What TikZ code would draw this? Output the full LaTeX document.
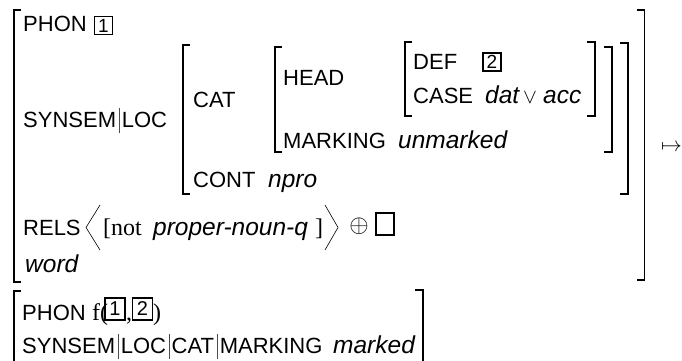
\documentclass[tikz,border=0pt]{standalone}
\usepackage{fontspec}
\setmainfont{Liberation Serif}
\setsansfont{Liberation Sans}
\newcommand\pbar{\hspace{2.5pt}{\color{black!70}\rule[-6pt]{0.7pt}{25pt}}\hspace{2.5pt}}
\newcommand\lbrk[3]{\draw[brk] (#1+7,#2) -- (#1,#2) -- (#1,#3) -- (#1+7,#3);}
\newcommand\rbrk[3]{\draw[brk] (#1-8,#2) -- (#1,#2) -- (#1,#3) -- (#1-8,#3);}
\tikzset{
  lab/.style={anchor=base west, inner sep=0pt, font=\sffamily\fontsize{22}{22}\selectfont},
  val/.style={anchor=base west, inner sep=0pt, font=\sffamily\itshape\fontsize{24.5}{24.5}\selectfont},
  ser/.style={anchor=base west, inner sep=0pt, font=\rmfamily\fontsize{24}{24}\selectfont},
  tagbox/.style={draw, line width=1.7pt, inner sep=0pt, minimum width=18pt, minimum height=18pt, font=\sffamily\fontsize{19}{19}\selectfont},
  tagbig/.style={tagbox, minimum width=20pt, minimum height=22pt, font=\sffamily\fontsize{20}{20}\selectfont},
  brk/.style={line width=1.3pt},
  angl/.style={line width=0.6pt}
}
\begin{document}
\begin{tikzpicture}[x=1pt,y=-1pt]
\useasboundingbox (0,0) rectangle (682,361);
% first AVM
\node[lab] (phon) at (23,32) {PHON};
\node[tagbox] (t1) at (103.5,25.5) {1};
\node[lab] (synsem) at (23,127) {SYNSEM\pbar LOC};
\node[lab] (cat) at (193,107) {CAT};
\node[lab] (head) at (283,85) {HEAD};
\node[lab] (def) at (413,70) {DEF};
\node[tagbox] (t2) at (492,62) {2};
\node[lab] (case) at (413,103.5) {CASE};
\node[val] (dat) at (485,103.5) {dat};
\node[anchor=base west, inner sep=0pt, font=\fontsize{22}{22}\selectfont] (or) at (523,103.5) {$\vee$};
\node[val] (acc) at (543,103.5) {acc};
\node[lab] (marking) at (283,148) {MARKING};
\node[val] (unm) at (398,148) {unmarked};
\node[lab] (cont) at (193,187) {CONT};
\node[val] (npro) at (268,187) {npro};
\node[lab] (rels) at (23,235) {RELS};
\node[ser] (notn) at (103,235) {[not};
\node[val] (pnq) at (153,235) {proper-noun-q};
\node[ser] (rb) at (315,235) {]};
\node[inner sep=0pt, font=\fontsize{24}{24}\selectfont] (oplus) at (359,226.5) {$\oplus$};
\node[draw, line width=1.7pt, minimum width=18pt, minimum height=22pt, inner sep=0pt] (empty) at (385,224) {};
\node[val] (word) at (25,272) {word};
\draw[angl] (100,205) -- (86,227.5) -- (100,250);
\draw[angl] (325,205) -- (338,227.5) -- (325,250);
% brackets of first AVM
\lbrk{14}{10}{282}
\rbrk{644.5}{10}{280}
\lbrk{183}{45}{194}
\rbrk{628}{43}{194}
\lbrk{275}{47}{152}
\rbrk{612}{47}{152}
\lbrk{405}{42}{116}
\rbrk{595}{42}{116}
% arrow
\node[anchor=base west, inner sep=0pt, font=\fontsize{20}{20}\selectfont] (arr) at (661,151) {$\mapsto$};
% second AVM
\node[lab] (phon2) at (22,320) {PHON};
\node[ser] (f) at (92,320) {f(};
\node[tagbig] (t1b) at (115,309) {1};
\node[ser] (comma) at (126,320) {,};
\node[tagbig] (t2b) at (142.5,309) {2};
\node[ser] (rp) at (153,320) {)};
\node[lab] (path) at (22,353) {SYNSEM\pbar LOC\pbar CAT\pbar MARKING};
\node[val] (marked) at (333,353) {marked};
\lbrk{14}{291}{375}
\rbrk{423}{290}{375}
\end{tikzpicture}
\end{document}
